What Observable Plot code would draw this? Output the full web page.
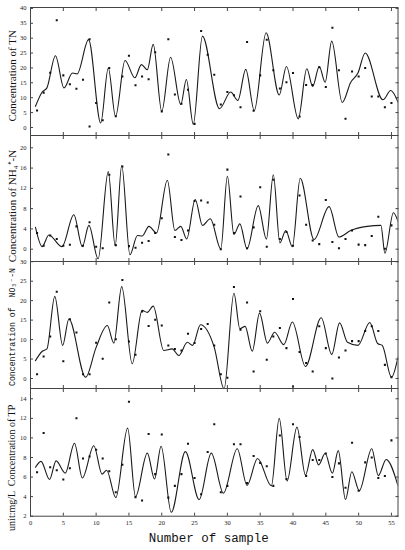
<!DOCTYPE html>
<html><head><meta charset="utf-8">
<script src="https://cdn.jsdelivr.net/npm/d3@7"></script>
<script src="https://cdn.jsdelivr.net/npm/@observablehq/plot@0.6"></script>
<style>
body{margin:0;background:#fff;}
#wrap{position:relative;width:405px;height:550px;overflow:hidden;background:#fff;}
#wrap svg{position:absolute;left:0;background:transparent !important;}
</style></head><body><div id="wrap"></div>
<script>
// ---------- data ----------
const sampleNo = [1,2,3,4,5,6,7,8,9,10,11,12,13,14,15,16,17,18,19,20,21,22,23,24,25,26,27,28,29,30,31,32,33,34,35,36,37,38,39,40,41,42,43,44,45,46,47,48,49,50,51,52,53,54,55];
const xTicks = [0,5,10,15,20,25,30,35,40,45,50,55];

// TN
const tnValues = [5.7,11.7,18.4,36,17.5,14.5,13,16,29.6,8.2,2.4,20,3.8,17.1,24.1,14.2,17.1,16.2,25.3,5.4,29.6,11.1,8,12.7,1.2,32.4,24.4,17.7,7.7,11.9,10.8,6.8,28.7,5.6,17.5,29.5,19.2,13.1,15.2,18.3,3.7,14.3,14.3,20.2,13.6,33.5,19.2,2.9,18.8,17.1,20,10.4,10.4,6.8,8.2];
const tnExtraX = [9, 56];
const tnExtraY = [0.3, 8.8];
const tnCurveX = [0.76,1.78,2.5,3.8,5.1,6.4,7.1,8.85,10.7,11.85,12.96,14.4,15.9,16.9,17.8,18.7,20.0,21.35,22.9,23.75,24.8,26.2,28.8,30.5,31.6,32.8,34.1,35.9,37.9,39.0,40.8,42.1,43.0,44.0,44.9,45.9,47.5,48.8,49.9,51.0,53.7,54.9,56];
const tnCurveY = [7.1,11.9,13.3,24.1,13.3,18.3,18.0,29.5,1.5,20,3.7,22.5,16.7,21.1,19.4,27.9,5.4,23.6,7.7,16.1,1.1,30.7,6.3,11.9,9.1,19.5,5.7,31.8,10.9,20.5,2.9,19.7,13.8,20.5,15.2,29,8.4,15.2,18.3,25,9.3,12.4,8.5];
const tnTicks = [0,5,10,15,20,25,30,35,40];

// NH4+-N
const nhValues = [3.2,0.66,2.7,2.0,0.66,0.86,4.5,0.66,5.3,0.46,0.2,14.7,0.8,16.3,0.6,0.3,1.25,1.6,3.2,6.1,18.7,2.4,1.8,3.7,9.5,9.6,9.2,4.8,0,15.7,3.2,10.4,0.2,4.3,12.2,0.5,13.7,2.0,3.4,0.66,10.6,4.8,1.7,1.0,9.7,1.4,0.2,2.0,3.7,0.9,0.8,2.6,6.4,0.07,4.7];
const nhExtraX = [];
const nhExtraY = [];
const nhCurveX = [0.76,1.78,2.8,4.8,6.6,7.9,8.9,10.3,11.85,12.9,13.9,15.15,16.3,17.0,18.05,19.2,20.85,22.0,22.9,23.8,25.1,26.2,27.4,29.0,30.0,31.0,31.9,33.0,34.7,35.95,37.0,38.0,38.9,39.9,41.1,43.2,45.5,47.0,48.8,51.3,53.4,54.0,55.3,56];
const nhCurveY = [4.3,0.5,2.8,0.5,6.8,0.5,4.7,-1.9,15.3,0.7,16.5,-1.1,2.7,2.6,4.5,3.2,13.6,3.7,4.5,2.0,9.8,4.7,6.0,0.07,14.4,2.9,5.0,0.07,8.6,2.0,14.7,1.25,3.7,0.5,14.0,1.9,8.4,2.4,3.7,4.5,4.7,-0.8,7.2,5.5];
const nhTicks = [0,4,8,12,16,20];

// NO3--N
const noValues = [1.1,5.65,10.8,22.3,4.45,15.2,11.8,1.1,1.1,9.2,5.05,19.5,10.1,25.3,9.5,6.1,17.2,13.5,15.1,13.6,8.5,7.6,7.2,11.5,9.1,12.7,14.0,8.5,1.1,0.2,23.5,12.5,19.5,1.8,17.3,4.8,10.8,13.0,7.8,20.4,6.8,4.0,1.8,13.4,7.8,0,5.4,7.2,9.6,9.6,12.2,13.4,12.2,3.5,0.3];
const noExtraX = [40];
const noExtraY = [-2.05];
const noCurveX = [0.76,1.8,2.5,3.7,4.9,5.85,8.4,10.0,11.7,12.7,13.9,15.5,17.0,17.8,18.7,20.3,21.6,22.6,23.9,24.7,25.9,28.0,29.5,31.0,31.9,32.7,33.8,34.9,36.1,37.2,38.6,39.9,41.9,44.3,45.9,47.1,48.3,49.9,51.7,52.9,53.6,55.0,56];
const noCurveY = [4.6,7.0,7.6,21.1,8.5,15.3,0.34,8.0,13.6,9.1,23.6,3.8,17.5,17.0,18.6,7.2,7.6,5.9,9.3,8.5,13.8,8.0,-2.65,21.9,12.8,13.4,7.0,16.8,9.1,11.9,8.7,14.5,3.1,15.6,6.2,14.3,9.3,8.5,14.4,9.0,8.5,0.34,5.5];
const noTicks = [0,5,10,15,20,25,30];

// TP
const tpValues = [6.5,10.5,7.0,6.7,5.75,6.9,12.0,7.9,8.1,8.8,7.9,6.6,4.45,7.25,13.7,3.95,3.6,10.4,6.3,10.35,3.9,5.1,6.3,9.4,5.9,4.25,8.55,11.4,4.45,5.1,9.35,9.35,5.4,8.15,7.45,7.1,5.1,10.25,5.8,11.4,10.1,6.1,7.75,7.75,8.4,6.0,7.4,4.9,9.5,4.6,7.5,8.0,5.9,6.1,9.75];
const tpExtraX = [];
const tpExtraY = [];
const tpCurveX = [0.76,1.6,2.9,3.9,5.3,6.7,7.9,9.65,10.9,11.6,13.0,14.8,16.0,17.8,18.9,19.9,21.45,23.6,25.7,27.55,29.4,31.5,33.0,34.6,36.7,37.9,39.1,40.6,41.9,43.0,43.9,44.9,46.0,46.9,48.0,48.96,50.1,52.0,53.0,54.2,56];
const tpCurveY = [7.0,7.6,5.75,7.65,6.4,9.45,5.9,9.2,6.3,6.7,3.9,11.0,4.0,8.45,5.8,9.15,2.4,8.6,3.7,8.45,4.35,8.9,5.15,7.9,5.1,12.0,5.6,11.1,6.2,8.8,7.25,8.4,6.4,8.7,3.7,6.55,4.6,8.9,6.15,7.8,5.1];
const tpTicks = [2,4,6,8,10,12,14];

// ---------- drawing ----------
const wrap = document.getElementById("wrap");
const serif = "'Liberation Serif', 'Times New Roman', serif";
const mono = "'Liberation Mono', 'DejaVu Sans Mono', monospace";

function panel(cfg) {
  const pts = sampleNo.map((s, i) => ({x: s, y: cfg.values[i]}))
    .concat(cfg.extraX.map((s, i) => ({x: s, y: cfg.extraY[i]})));
  const curve = cfg.curveX.map((s, i) => ({x: s, y: cfg.curveY[i]}));
  const marks = [
    Plot.line(curve, {x: "x", y: "y", curve: "monotone-x", stroke: "#1a1a1a", strokeWidth: 1.1, clip: true}),
    Plot.dot(pts, {x: "x", y: "y", symbol: "square", r: 1.15, fill: "#111", stroke: null, clip: true}),
    Plot.frame({stroke: "#444", strokeWidth: 1}),
    Plot.axisX({anchor: "bottom", ticks: xTicks, tickSize: -3, tickFormat: () => "", label: null, stroke: "#444"}),
    Plot.axisX({anchor: "top", ticks: xTicks, tickSize: -3, tickFormat: () => "", label: null, stroke: "#444"}),
    Plot.axisY({anchor: "left", ticks: cfg.ticks, tickSize: -3, tickFormat: () => "", label: null, stroke: "#444"}),
    Plot.axisY({anchor: "right", ticks: cfg.ticks, tickSize: -3, tickFormat: () => "", label: null, stroke: "#444"}),
    Plot.axisY({anchor: "left", ticks: cfg.ticks, tickSize: 0, tickPadding: 4, label: null, fontSize: 6.5, fontFamily: serif, fill: "#222"}),
    Plot.text([cfg.label], {frameAnchor: "left", dx: -18.5, dy: cfg.labelDy, rotate: -90, fontSize: cfg.labelSize, fontFamily: cfg.labelFont, fill: "#111", textAnchor: "middle", lineAnchor: "middle"})
  ];
  if (cfg.bottomAxis) {
    marks.push(Plot.axisX({anchor: "bottom", ticks: xTicks, tickSize: 0, tickPadding: 4, label: null, fontSize: 6.5, fontFamily: serif, fill: "#222"}));
    marks.push(Plot.text(["Number of sample"], {frameAnchor: "bottom", dx: -5.5, dy: 22, fontSize: 12.5, fontFamily: mono, fill: "#111", lineAnchor: "middle"}));
  }
  const svg = Plot.plot({
    width: 405,
    height: cfg.height,
    marginLeft: 30,
    marginRight: 7.5,
    marginTop: cfg.mTop,
    marginBottom: cfg.mBottom,
    style: {background: "transparent", fontFamily: serif},
    x: {domain: [0, 56]},
    y: {domain: cfg.domain},
    marks
  });
  svg.style.top = cfg.top + "px";
  wrap.appendChild(svg);
}

panel({top: 0, height: 141, mTop: 7, mBottom: 6, domain: [-2.7, 40.3], ticks: tnTicks,
  values: tnValues, extraX: tnExtraX, extraY: tnExtraY, curveX: tnCurveX, curveY: tnCurveY,
  label: "Concentration of TN", labelFont: serif, labelSize: 11, labelDy: 4.3});
panel({top: 129, height: 138, mTop: 6, mBottom: 6, domain: [-2.43, 22.43], ticks: nhTicks,
  values: nhValues, extraX: nhExtraX, extraY: nhExtraY, curveX: nhCurveX, curveY: nhCurveY,
  label: "Concentration of NH\u2084\u207A-N", labelFont: serif, labelSize: 11, labelDy: 7.5});
panel({top: 255, height: 139, mTop: 6, mBottom: 6, domain: [-2.57, 30.06], ticks: noTicks,
  values: noValues, extraX: noExtraX, extraY: noExtraY, curveX: noCurveX, curveY: noCurveY,
  label: "Concentration of  NO\u2083\u207B-N", labelFont: mono, labelSize: 8.2, labelDy: 2});
panel({top: 382, height: 168, mTop: 6, mBottom: 34.3, domain: [2, 15.05], ticks: tpTicks,
  values: tpValues, extraX: tpExtraX, extraY: tpExtraY, curveX: tpCurveX, curveY: tpCurveY,
  label: "unit:mg/L  Concentration of TP", labelFont: serif, labelSize: 10, labelDy: 15.5, bottomAxis: true});
</script></body></html>
